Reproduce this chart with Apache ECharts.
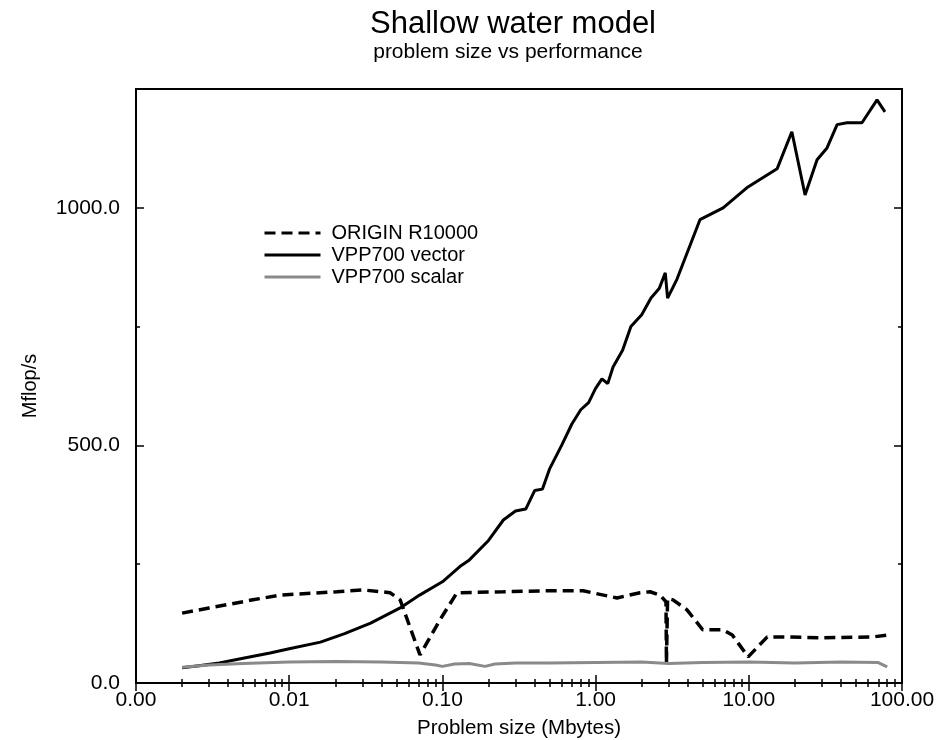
<!DOCTYPE html>
<html>
<head>
<meta charset="utf-8">
<title>Shallow water model</title>
<script src="https://cdn.jsdelivr.net/npm/echarts@6/dist/echarts.min.js"></script>
<style>
html, body { margin: 0; padding: 0; background: #fff; }
#chart { width: 936px; height: 740px; }
</style>
</head>
<body>
<div id="chart"></div>
<script>
// problem size (Mbytes) vs performance (Mflop/s)
const originSize = [0.002, 0.003, 0.0058, 0.0087, 0.0205, 0.03, 0.0455, 0.053, 0.0714, 0.0964, 0.1245, 0.25, 0.45, 0.83, 1.38, 1.95, 2.27, 2.63, 2.88, 2.9, 2.95, 3.2, 3.95, 5.0, 6.8, 7.8, 9.9, 13.2, 16.7, 30.5, 64.7, 81.1]
const originMflops = [147, 158, 175, 185, 192, 196, 190, 175, 59, 133, 190, 192, 194, 194, 179, 190, 192, 185, 171, 42, 178, 175, 154, 112, 112, 101, 55, 97, 97, 95, 97, 101]

const vectorSize = [0.002, 0.0025, 0.0035, 0.005, 0.0075, 0.01, 0.016, 0.023, 0.034, 0.053, 0.071, 0.1, 0.13, 0.15, 0.2, 0.25, 0.3, 0.35, 0.4, 0.45, 0.5, 0.6, 0.7, 0.8, 0.9, 1.0, 1.1, 1.2, 1.3, 1.5, 1.7, 2.0, 2.3, 2.6, 2.85, 2.95, 3.4, 4.8, 6.8, 9.7, 15.3, 19.1, 23.3, 27.9, 32.4, 37.7, 43.8, 54.8, 68.7, 77.4]
const vectorMflops = [32, 36, 42, 52, 63, 72, 86, 104, 126, 158, 185, 213, 245, 259, 300, 343, 362, 366, 405, 408, 450, 500, 545, 575, 590, 620, 640, 630, 665, 700, 750, 775, 810, 830, 863, 810, 850, 975, 1000, 1042, 1082, 1160, 1027, 1101, 1126, 1175, 1179, 1179, 1227, 1202]

const scalarSize = [0.002, 0.003, 0.005, 0.01, 0.02, 0.04, 0.07, 0.09, 0.1, 0.12, 0.15, 0.19, 0.22, 0.3, 0.5, 1, 2, 3, 5, 10, 20, 40, 70, 80]
const scalarMflops = [33, 38, 41, 44, 45, 44, 42, 38, 35, 40, 41, 35, 40, 42, 42, 43, 44, 41, 43, 44, 42, 44, 43, 34]

// axis ticks
const xMajorTicks = [0.001, 0.01, 0.1, 1, 10, 100]
const xMinorTicks = []
for (const d of [0.001, 0.01, 0.1, 1, 10]) {
  for (let k = 2; k <= 9; k++) xMinorTicks.push(+(d * k).toPrecision(3))
}
const yMajorTicks = [0, 500, 1000]
const yMinorTicks = [250, 750]

const FONT = 'Liberation Sans'

const pairs = (xs, ys) => xs.map((x, i) => [x, ys[i]])

const logAxis = (pos, ticks, len, labels) => ({
  type: 'log',
  logBase: 10,
  min: 0.001,
  max: 100,
  position: pos,
  axisLine: { show: labels, lineStyle: { color: '#000', width: 2 } },
  axisTick: { show: true, inside: true, length: len, customValues: ticks, lineStyle: { color: '#000', width: 1.5 } },
  axisLabel: {
    show: labels,
    customValues: xMajorTicks,
    formatter: v => v.toFixed(2),
    color: '#000',
    fontFamily: FONT,
    fontSize: 21,
    margin: 7
  },
  splitLine: { show: false },
  minorSplitLine: { show: false }
})

const valAxis = (pos, ticks, len, labels) => ({
  type: 'value',
  min: 0,
  max: 1250,
  interval: 250,
  position: pos,
  axisLine: { show: labels, lineStyle: { color: '#000', width: 2 } },
  axisTick: { show: true, inside: true, length: len, customValues: ticks, lineStyle: { color: '#000', width: 1.5 } },
  axisLabel: {
    show: labels,
    customValues: yMajorTicks,
    formatter: v => v.toFixed(1),
    color: '#000',
    fontFamily: FONT,
    fontSize: 21,
    margin: 16
  },
  splitLine: { show: false }
})

const xMain = logAxis('bottom', xMajorTicks, 8, true)
xMain.name = 'Problem size (Mbytes)'
xMain.nameLocation = 'middle'
xMain.nameGap = 35
xMain.nameTextStyle = { color: '#000', fontFamily: FONT, fontSize: 20.5 }

const yMain = valAxis('left', yMajorTicks, 8, true)
yMain.name = 'Mflop/s'
yMain.nameLocation = 'middle'
yMain.nameGap = 96
yMain.nameRotate = 90
yMain.nameTextStyle = { color: '#000', fontFamily: FONT, fontSize: 20 }

const chart = echarts.init(document.getElementById('chart'), null, { renderer: 'canvas' })

chart.setOption({
  backgroundColor: '#fff',
  animation: false,
  grid: {
    left: 136, right: 34, top: 89, bottom: 57,
    outerBoundsMode: 'none',
    show: true, borderColor: '#000', borderWidth: 2, backgroundColor: 'transparent'
  },
  graphic: [
    {
      type: 'text', x: 513, y: 24,
      style: { text: 'Shallow water model', fill: '#000', font: '31px "Liberation Sans"', textAlign: 'center', textVerticalAlign: 'middle' }
    },
    {
      type: 'text', x: 508, y: 52,
      style: { text: 'problem size vs performance', fill: '#000', font: '21px "Liberation Sans"', textAlign: 'center', textVerticalAlign: 'middle' }
    }
  ],
  legend: {
    orient: 'vertical',
    left: 258,
    top: 218,
    itemWidth: 56,
    itemHeight: 14,
    itemGap: 2,
    itemStyle: { opacity: 0 },
    lineStyle: { width: 3 },
    textStyle: { color: '#000', fontFamily: FONT, fontSize: 20, padding: [0, 0, 0, 6] },
    data: ['ORIGIN R10000', 'VPP700 vector', 'VPP700 scalar']
  },
  xAxis: [
    xMain,
    logAxis('bottom', xMinorTicks, 4, false),
    logAxis('top', xMajorTicks, 8, false),
    logAxis('top', xMinorTicks, 4, false)
  ],
  yAxis: [
    yMain,
    valAxis('left', yMinorTicks, 4, false),
    valAxis('right', yMajorTicks, 8, false),
    valAxis('right', yMinorTicks, 4, false)
  ],
  series: [
    {
      name: 'ORIGIN R10000',
      type: 'line',
      data: pairs(originSize, originMflops),
      symbol: 'none',
      lineStyle: { color: '#000', width: 3.5, type: [11, 6] },
      itemStyle: { color: '#000' }
    },
    {
      name: 'VPP700 vector',
      type: 'line',
      data: pairs(vectorSize, vectorMflops),
      symbol: 'none',
      lineStyle: { color: '#000', width: 3 },
      itemStyle: { color: '#000' }
    },
    {
      name: 'VPP700 scalar',
      type: 'line',
      data: pairs(scalarSize, scalarMflops),
      symbol: 'none',
      lineStyle: { color: '#8a8a8a', width: 3 },
      itemStyle: { color: '#8a8a8a' }
    }
  ]
})
</script>
</body>
</html>
